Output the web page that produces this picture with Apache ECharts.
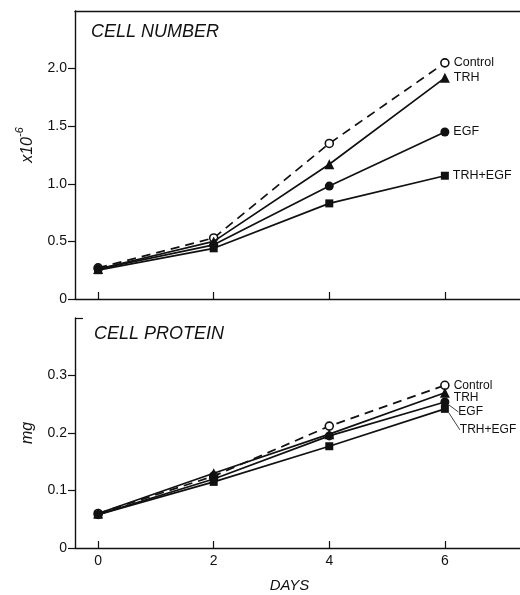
<!DOCTYPE html>
<html>
<head>
<meta charset="utf-8">
<script src="https://cdn.jsdelivr.net/npm/echarts@6/dist/echarts.min.js"></script>
<style>
  html, body { margin: 0; padding: 0; background: #fff; }
  #chart { width: 520px; height: 595px; }
</style>
</head>
<body>
<div id="chart"></div>
<script>
// Days of culture
const days = [0, 2, 4, 6];
const dayTicks = [0, 2, 4, 6];

// Cell number (x10^-6)
const numControl = [0.27, 0.53, 1.35, 2.05];
const numTRH     = [0.26, 0.50, 1.17, 1.92];
const numEGF     = [0.26, 0.47, 0.98, 1.45];
const numTRHEGF  = [0.25, 0.44, 0.83, 1.07];
const numTicks   = [0, 0.5, 1.0, 1.5, 2.0];

// Cell protein (mg)
const protControl = [0.060, 0.125, 0.212, 0.283];
const protTRH     = [0.060, 0.130, 0.198, 0.270];
const protEGF     = [0.058, 0.120, 0.195, 0.254];
const protTRHEGF  = [0.058, 0.115, 0.177, 0.242];
const protTicks   = [0, 0.1, 0.2, 0.3];

const seriesNames = ['Control', 'TRH', 'EGF', 'TRH+EGF'];

const FONT = 'Liberation Sans, Arial, sans-serif';
const INK = '#111';

const chart = echarts.init(document.getElementById('chart'), null, { renderer: 'canvas' });

const markerStyles = [
  { symbol: 'circle', symbolSize: 8, itemStyle: { color: '#fff', borderColor: INK, borderWidth: 1.6 }, dashed: true },
  { symbol: 'triangle', symbolSize: 10, itemStyle: { color: INK, borderColor: INK, borderWidth: 0 } },
  { symbol: 'circle', symbolSize: 9, itemStyle: { color: INK, borderColor: INK, borderWidth: 0 } },
  { symbol: 'rect', symbolSize: 8, itemStyle: { color: INK, borderColor: INK, borderWidth: 0 } }
];

// label nudges for the end-of-line names (bottom panel names are spread apart with leader lines)
const topLabelShift = [[0, 0], [0, 0], [0, 0], [0, 0]];
const botLabelShift = [[0, 0], [0, 5], [5, 10], [7, 21]];

function makeSeries(values, idx, gridIdx, shift, leader) {
  const m = markerStyles[idx];
  const last = days.length - 1;
  return {
    name: seriesNames[idx],
    type: 'line',
    xAxisIndex: gridIdx === 0 ? 0 : 2,
    yAxisIndex: gridIdx === 0 ? 0 : 1,
    symbol: m.symbol,
    symbolSize: m.symbolSize,
    showAllSymbol: true,
    itemStyle: m.itemStyle,
    lineStyle: { color: INK, width: 1.7, type: m.dashed ? [9, 6] : 'solid' },
    z: m.dashed ? 3 : 4,
    animation: false,
    data: days.map((d, i) => ({
      value: [d, values[i]],
      label: {
        show: i === last,
        position: 'right',
        distance: 4,
        formatter: seriesNames[idx],
        fontFamily: FONT,
        fontSize: gridIdx === 0 ? 12.5 : 12,
        color: INK
      }
    })),
    labelLayout: { dx: shift[idx][0], dy: shift[idx][1] },
    labelLine: { show: !!leader, lineStyle: { color: INK, width: 0.8 } }
  };
}

const xAxisLine = { show: true, onZero: false, lineStyle: { color: INK, width: 1.4 } };
const yAxisLine = { show: true, onZero: false, lineStyle: { color: INK, width: 1.4 } };

const option = {
  backgroundColor: '#fff',
  animation: false,
  title: [
    { text: 'CELL NUMBER', left: 91, top: 23, padding: 0,
      textStyle: { fontFamily: FONT, fontStyle: 'italic', fontWeight: 'normal', fontSize: 18, color: INK } },
    { text: 'CELL PROTEIN', left: 94, top: 325, padding: 0,
      textStyle: { fontFamily: FONT, fontStyle: 'italic', fontWeight: 'normal', fontSize: 18, color: INK } }
  ],
  grid: [
    { left: 75, top: 11, width: 446, height: 288 },
    { left: 75, top: 318, width: 446, height: 230 }
  ],
  xAxis: [
    { // top panel, bottom edge
      type: 'value', gridIndex: 0, position: 'bottom', min: -0.4, max: 7.3,
      axisLine: xAxisLine,
      axisTick: { show: true, inside: true, length: 7, customValues: dayTicks, lineStyle: { color: INK, width: 1.2 } },
      axisLabel: { show: false },
      splitLine: { show: false }
    },
    { // top panel frame line
      type: 'value', gridIndex: 0, position: 'top', min: -0.4, max: 7.3,
      axisLine: xAxisLine,
      axisTick: { show: false }, axisLabel: { show: false }, splitLine: { show: false }
    },
    { // bottom panel, days axis
      type: 'value', gridIndex: 1, position: 'bottom', min: -0.4, max: 7.3,
      axisLine: xAxisLine,
      axisTick: { show: true, inside: true, length: 7, customValues: dayTicks, lineStyle: { color: INK, width: 1.2 } },
      axisLabel: { show: true, customValues: dayTicks, margin: 6, fontFamily: FONT, fontSize: 14, color: INK },
      splitLine: { show: false },
      name: 'DAYS', nameLocation: 'middle', nameGap: 30,
      nameTextStyle: { fontFamily: FONT, fontStyle: 'italic', fontSize: 15, color: INK, padding: [0, 16, 0, 0] }
    }
  ],
  yAxis: [
    {
      type: 'value', gridIndex: 0, position: 'left', min: 0, max: 2.5,
      axisLine: yAxisLine,
      axisTick: { show: true, inside: false, length: 7, customValues: numTicks, lineStyle: { color: INK, width: 1.2 } },
      axisLabel: { show: true, customValues: numTicks, margin: 8, fontFamily: FONT, fontSize: 14, color: INK,
        formatter: v => (v === 0 ? '0' : v.toFixed(1)) },
      splitLine: { show: false },
      name: '{a|x10}{b|-6}', nameLocation: 'middle', nameGap: 39, nameRotate: 90,
      nameTextStyle: {
        padding: [0, 0, 0, 20],
        rich: {
          a: { fontFamily: FONT, fontStyle: 'italic', fontSize: 16, color: INK, lineHeight: 22, verticalAlign: 'bottom' },
          b: { fontFamily: FONT, fontStyle: 'italic', fontSize: 11, color: INK, lineHeight: 22, verticalAlign: 'top' }
        }
      }
    },
    {
      type: 'value', gridIndex: 1, position: 'left', min: 0, max: 0.4,
      axisLine: yAxisLine,
      axisTick: { show: true, inside: false, length: 7, customValues: protTicks, lineStyle: { color: INK, width: 1.2 } },
      axisLabel: { show: true, customValues: protTicks, margin: 8, fontFamily: FONT, fontSize: 14, color: INK,
        formatter: v => (v === 0 ? '0' : v.toFixed(1)) },
      splitLine: { show: false },
      name: 'mg', nameLocation: 'middle', nameGap: 39, nameRotate: 90,
      nameTextStyle: { fontFamily: FONT, fontStyle: 'italic', fontSize: 16, color: INK }
    },
    { // short cap at the top of the protein axis
      type: 'value', gridIndex: 1, position: 'left', offset: 0, min: 0, max: 0.4,
      axisLine: { show: false, onZero: false },
      axisTick: { show: true, inside: true, length: 8, customValues: [0.4], lineStyle: { color: INK, width: 1.2 } },
      axisLabel: { show: false }, splitLine: { show: false }
    }
  ],
  series: [
    makeSeries(numControl, 0, 0, topLabelShift, false),
    makeSeries(numTRH, 1, 0, topLabelShift, false),
    makeSeries(numEGF, 2, 0, topLabelShift, false),
    makeSeries(numTRHEGF, 3, 0, topLabelShift, false),
    makeSeries(protControl, 0, 1, botLabelShift, false),
    makeSeries(protTRH, 1, 1, botLabelShift, false),
    makeSeries(protEGF, 2, 1, botLabelShift, true),
    makeSeries(protTRHEGF, 3, 1, botLabelShift, true)
  ]
};

chart.setOption(option);
</script>
</body>
</html>
